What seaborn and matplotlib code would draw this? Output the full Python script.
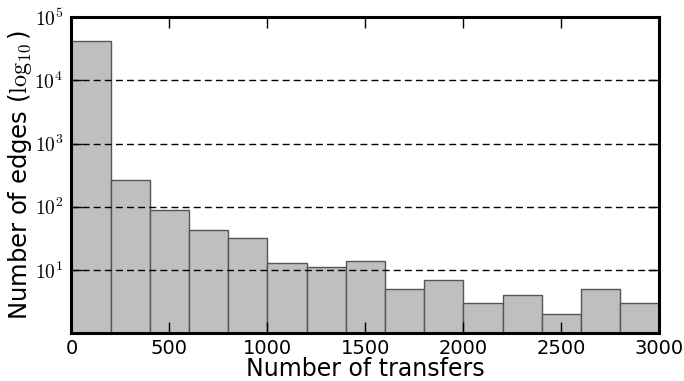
import numpy as np
import matplotlib
matplotlib.use("Agg")
import matplotlib.pyplot as plt
import seaborn as sns
from matplotlib.ticker import NullLocator, FuncFormatter

# Data (bin width 200)
bin_edges = [0, 200, 400, 600, 800, 1000, 1200, 1400, 1600, 1800, 2000,
             2200, 2400, 2600, 2800, 3000]
counts = [42000, 268, 90, 43, 32, 13, 11, 14, 5, 7, 3, 4, 2, 5, 3]
bin_centers = [(a + b) / 2 for a, b in zip(bin_edges[:-1], bin_edges[1:])]
x_ticks = [0, 500, 1000, 1500, 2000, 2500, 3000]
y_ticks = [1e1, 1e2, 1e3, 1e4, 1e5]

plt.rcParams['mathtext.fontset'] = 'cm'
plt.rcParams['font.family'] = ['DejaVu Sans']

fig = plt.figure(figsize=(6.84, 3.81), dpi=100)
ax = fig.add_axes([0.1045, 0.126, 0.8595, 0.829])

sns.histplot(x=bin_centers, weights=counts, bins=bin_edges, ax=ax,
             color='#bfbfbf', edgecolor='#555555', linewidth=1.0, alpha=1.0)
ax.set_yscale('log')
ax.set_ylim(1.01, 1e5)
ax.set_xlim(0, 3000)
ax.set_xticks(x_ticks)
ax.set_yticks(y_ticks)
ax.yaxis.set_major_formatter(FuncFormatter(lambda v, p: r'$10^{%d}$' % int(round(np.log10(v)))))
ax.yaxis.set_minor_locator(NullLocator())
ax.xaxis.set_minor_locator(NullLocator())

ax.grid(axis='y', which='major', color='black', linestyle=(0, (5, 3)), linewidth=1.0)
ax.set_axisbelow(False)
for p in ax.patches:
    p.set_zorder(1)
for gl in ax.get_ygridlines():
    gl.set_zorder(2)

for s in ax.spines.values():
    s.set_linewidth(2.2)
    s.set_zorder(3)

ax.tick_params(axis='both', which='major', direction='in', top=True, right=True,
               length=8, width=1, labelsize=14, pad=6)
ax.tick_params(axis='x', pad=4.5)
ax.set_xlabel('Number of transfers', fontsize=17, labelpad=-1)
ax.set_ylabel(r'Number of edges ($\log_{10}$)', fontsize=17.5)
ax.yaxis.set_label_coords(-0.064, 0.5)

fig.savefig('out.png', dpi=100)
